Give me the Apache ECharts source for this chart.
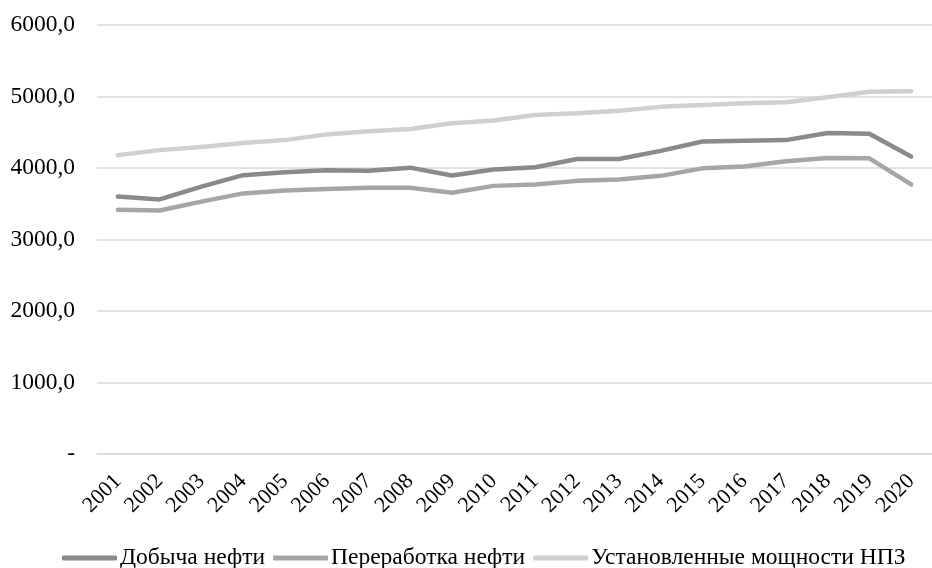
<!DOCTYPE html>
<html>
<head>
<meta charset="utf-8">
<script src="https://cdn.jsdelivr.net/npm/echarts@6/dist/echarts.min.js"></script>
<style>html,body{margin:0;padding:0;background:#fff}#c{width:932px;height:568px}</style>
</head>
<body>
<div id="c"></div>
<script>
var years = ['2001','2002','2003','2004','2005','2006','2007','2008','2009','2010','2011','2012','2013','2014','2015','2016','2017','2018','2019','2020'];
var dobycha = [3600,3560,3740,3900,3940,3970,3960,4005,3895,3980,4010,4125,4125,4240,4370,4380,4390,4490,4480,4160];
var pererabotka = [3415,3405,3530,3645,3685,3705,3725,3725,3655,3750,3770,3820,3840,3890,3995,4020,4095,4140,4135,3770];
var moshnosti = [4180,4250,4295,4350,4390,4470,4515,4545,4625,4665,4740,4765,4800,4855,4880,4905,4920,4990,5065,5075];
var seriesNames = ['Добыча нефти','Переработка нефти','Установленные мощности НПЗ'];
var colors = ['#8a8a8a','#a6a6a6','#d0d0d0'];

var font = '"Liberation Serif", "Times New Roman", serif';
var chart = echarts.init(document.getElementById('c'));
function mk(name, data, color){
  return {name:name, type:'line', data:data, symbol:'none', smooth:false,
    lineStyle:{color:color, width:4.5, cap:'round', join:'round'}, itemStyle:{color:color}};
}
chart.setOption({
  animation:false,
  backgroundColor:'#fff',
  color: colors,
  grid:{left:97, right:0, top:25, bottom:114},
  xAxis:{type:'category', data:years, boundaryGap:true,
    axisLine:{show:true, lineStyle:{color:'#d9d9d9', width:1.5}},
    axisTick:{show:false},
    axisLabel:{rotate:45, color:'#000', fontFamily:font, fontSize:22, margin:24, interval:0}},
  yAxis:{type:'value', min:0, max:6000, interval:1000,
    axisLine:{show:false}, axisTick:{show:false},
    splitLine:{lineStyle:{color:'#d9d9d9', width:1.5}},
    axisLabel:{color:'#000', fontFamily:font, fontSize:23.5, margin:22,
      formatter:function(v){return v===0?'-':v.toFixed(1).replace('.',',');}}},
  legend:{top:541, left:57, itemWidth:55, itemHeight:5, itemGap:8, icon:'roundRect',
    textStyle:{color:'#000', fontFamily:font, fontSize:23.5, padding:[0,0,0,-2]},
    data:seriesNames},
  series:[mk(seriesNames[0],dobycha,colors[0]), mk(seriesNames[1],pererabotka,colors[1]), mk(seriesNames[2],moshnosti,colors[2])]
});
</script>
</body>
</html>
